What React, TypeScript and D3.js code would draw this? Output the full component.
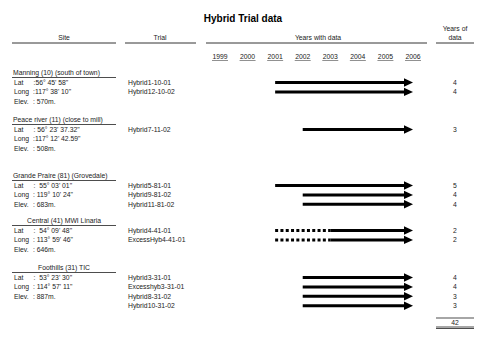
import React from "react";
import * as d3 from "d3";

// Data
const years = [1999, 2000, 2001, 2002, 2003, 2004, 2005, 2006];

const sites = [
  "Manning (10) (south of town)",
  "Peace river (11) (close to mill)",
  "Grande Praire (81) (Grovedale)",
  "Central (41) MWI Linaria",
  "Foothills (31) TIC",
];
const siteCentered = [false, false, false, true, true];
const siteLat = [":56° 45' 58\"", ": 56° 23' 37.32\"", ":  55° 03' 01\"", ":  54° 09' 48\"", ":  53° 23' 30\""];
const siteLong = [":117° 38' 10\"", ":117° 12' 42.59\"", ": 119° 10' 24\"", ": 113° 59' 46\"", ": 114° 57' 11\""];
const siteElev = [": 570m.", ": 508m.", ": 683m.", ": 646m.", ": 887m."];

const trialSite = [0, 0, 1, 2, 2, 2, 3, 3, 4, 4, 4, 4];
const trialRow = [0, 1, 0, 0, 1, 2, 0, 1, 0, 1, 2, 3];
const trialNames = [
  "Hybrid1-10-01", "Hybrid12-10-02",
  "Hybrid7-11-02",
  "Hybrid5-81-01", "Hybrid9-81-02", "Hybrid11-81-02",
  "Hybrid4-41-01", "ExcessHyb4-41-01",
  "Hybrid3-31-01", "Excesshyb3-31-01", "Hybrid8-31-02", "Hybrid10-31-02",
];
const trialStart = [2001, 2001, 2002, 2001, 2002, 2002, 2001, 2001, 2002, 2002, 2002, 2002];
const trialDashedTo = [0, 0, 0, 0, 0, 0, 2003, 2003, 0, 0, 0, 0];
const trialYears = [4, 4, 3, 5, 4, 4, 2, 2, 4, 4, 3, 3];

// layout
const W = 491;
const H = 352;
const headerBase = [75, 122, 178, 223, 270];
const rowGap = 9.4;
const font = "Arial, 'Liberation Sans', sans-serif";
const fs = 6.8;
const ink = "#222";

export default function App() {
  const x = d3.scalePoint<number>().domain(years).range([220, 413]);
  const total = d3.sum(trialYears);
  const rowY = (s: number, r: number) => headerBase[s] + 10 + r * rowGap;
  const endYear = years[years.length - 1];

  return (
    <svg width={W} height={H} style={{ position: "absolute", left: 0, top: 0, background: "#fff" }}
      fontFamily={font} fontSize={fs} fill={ink}>
      <rect width={W} height={H} fill="#fff" />
      {/* title */}
      <text x={243} y={22} textAnchor="middle" fontSize={10} fontWeight="bold" fill="#000">Hybrid Trial data</text>

      {/* column headers */}
      <text x={64} y={40} textAnchor="middle">Site</text>
      <line x1={12} x2={116} y1={43} y2={43} stroke="#000" strokeWidth={0.8} />
      <text x={160} y={40} textAnchor="middle">Trial</text>
      <line x1={125} x2={196} y1={43} y2={43} stroke="#000" strokeWidth={0.8} />
      <text x={318} y={40} textAnchor="middle">Years with data</text>
      <line x1={206} x2={427} y1={43} y2={43} stroke="#000" strokeWidth={0.8} />
      <text x={455} y={31} textAnchor="middle">Years of</text>
      <text x={455} y={40} textAnchor="middle">data</text>
      <line x1={436} x2={474} y1={43} y2={43} stroke="#000" strokeWidth={0.8} />

      {/* year labels */}
      {years.map((yr) => (
        <g key={yr}>
          <text x={x(yr)} y={59} textAnchor="middle">{yr}</text>
          <line x1={(x(yr) as number) - 8} x2={(x(yr) as number) + 8} y1={60.5} y2={60.5} stroke={ink} strokeWidth={0.5} />
        </g>
      ))}

      {/* site blocks */}
      {sites.map((s, i) => (
        <g key={s}>
          <text x={siteCentered[i] ? 64 : 13} y={headerBase[i]} textAnchor={siteCentered[i] ? "middle" : "start"}>{s}</text>
          <line x1={12} x2={116} y1={headerBase[i] + 2.5} y2={headerBase[i] + 2.5} stroke="#000" strokeWidth={0.7} />
          <text x={14} y={rowY(i, 0)}>Lat</text>
          <text x={33.5} y={rowY(i, 0)} xmlSpace="preserve" style={{ whiteSpace: "pre" }}>{siteLat[i]}</text>
          <text x={14} y={rowY(i, 1)}>Long</text>
          <text x={33} y={rowY(i, 1)} xmlSpace="preserve" style={{ whiteSpace: "pre" }}>{siteLong[i]}</text>
          <text x={14} y={rowY(i, 2)}>Elev.</text>
          <text x={33} y={rowY(i, 2)}>{siteElev[i]}</text>
        </g>
      ))}

      {/* trials */}
      {trialNames.map((t, i) => {
        const y = rowY(trialSite[i], trialRow[i]);
        const ay = y - 2.5;
        const x0 = x(trialStart[i]) as number;
        const xEnd = x(endYear) as number;
        const xd = trialDashedTo[i] ? (x(trialDashedTo[i]) as number) : x0;
        const headLen = 9;
        return (
          <g key={t}>
            <text x={128} y={y}>{t}</text>
            {trialDashedTo[i] ? (
              <line x1={x0} x2={xd} y1={ay} y2={ay} stroke="#000" strokeWidth={3} strokeDasharray="3,2.3" />
            ) : null}
            <line x1={xd} x2={xEnd - headLen + 1} y1={ay} y2={ay} stroke="#000" strokeWidth={3} />
            <path d={`M${xEnd - headLen},${ay - 4.2}L${xEnd},${ay}L${xEnd - headLen},${ay + 4.2}Z`} fill="#000" />
            <text x={455} y={y} textAnchor="middle">{trialYears[i]}</text>
          </g>
        );
      })}

      {/* total */}
      <line x1={436} x2={474} y1={318} y2={318} stroke="#000" strokeWidth={0.7} />
      <text x={455} y={325} textAnchor="middle">{total}</text>
      <line x1={436} x2={474} y1={327} y2={327} stroke="#000" strokeWidth={0.7} />
      <line x1={436} x2={474} y1={328.5} y2={328.5} stroke="#000" strokeWidth={0.7} />
    </svg>
  );
}
